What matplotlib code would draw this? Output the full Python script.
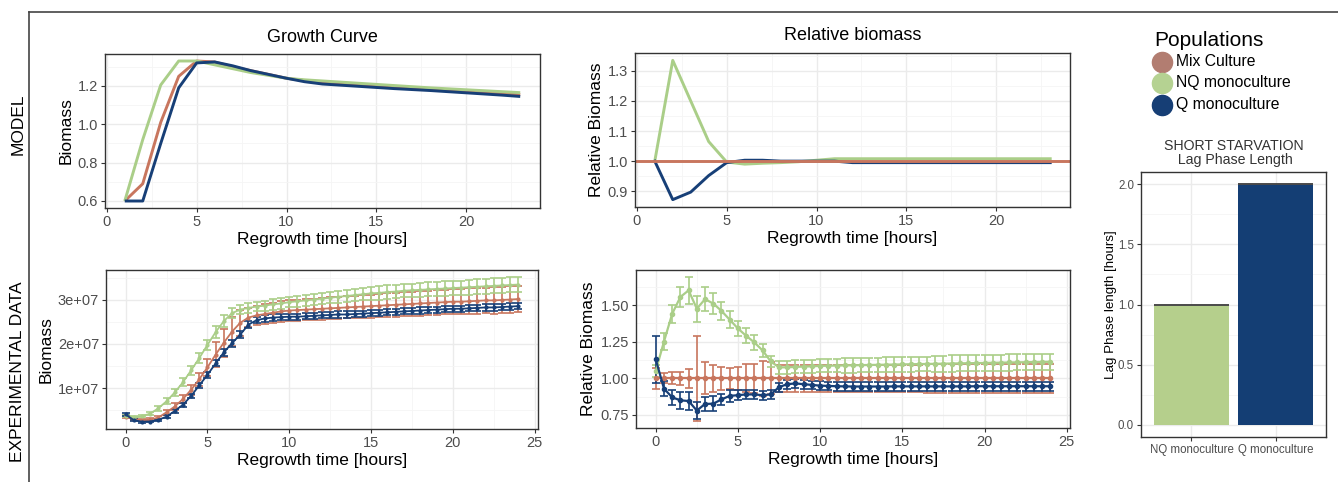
import numpy as np
import matplotlib
matplotlib.use("Agg")
import matplotlib.pyplot as plt

plt.rcParams['font.family'] = ['Liberation Sans', 'DejaVu Sans']

# ---------------- data ----------------
populations = ["Mix Culture", "NQ monoculture", "Q monoculture"]

model_hours = [1, 2, 3, 4, 5, 6, 7, 8, 9, 10, 11, 12, 13, 14, 15, 16, 17, 18, 19, 20, 21, 22, 23]
model_mix = [0.60, 0.69, 1.01, 1.25, 1.33, 1.325, 1.30, 1.28, 1.26, 1.24, 1.228, 1.218, 1.21, 1.204,
             1.198, 1.192, 1.187, 1.182, 1.177, 1.172, 1.167, 1.161, 1.155]
model_nq = [0.60, 0.92, 1.205, 1.33, 1.33, 1.31, 1.29, 1.27, 1.255, 1.24, 1.232, 1.226, 1.22, 1.214,
            1.208, 1.202, 1.196, 1.19, 1.185, 1.18, 1.175, 1.17, 1.165]
model_q = [0.60, 0.60, 0.90, 1.19, 1.32, 1.325, 1.305, 1.28, 1.26, 1.24, 1.222, 1.21, 1.204, 1.198,
           1.192, 1.186, 1.181, 1.176, 1.17, 1.164, 1.158, 1.152, 1.145]

model_rel_baseline = 1.0
model_rel_nq = [1.0, 1.335, 1.20, 1.065, 0.997, 0.99, 0.993, 0.995, 0.998, 1.003, 1.008, 1.008, 1.008,
                1.008, 1.008, 1.008, 1.008, 1.008, 1.008, 1.008, 1.008, 1.008, 1.008]
model_rel_q = [1.0, 0.872, 0.897, 0.952, 0.995, 1.003, 1.003, 1.0, 1.0, 1.0, 1.0, 0.995, 0.995, 0.995,
               0.995, 0.995, 0.995, 0.995, 0.995, 0.995, 0.995, 0.995, 0.995]

exp_hours = [0, 0.5, 1, 1.5, 2, 2.5, 3, 3.5, 4, 4.5, 5, 5.5, 6, 6.5, 7, 7.5, 8, 8.5, 9, 9.5, 10,
             10.5, 11, 11.5, 12, 12.5, 13, 13.5, 14, 14.5, 15, 15.5, 16, 16.5, 17, 17.5, 18, 18.5,
             19, 19.5, 20, 20.5, 21, 21.5, 22, 22.5, 23, 23.5, 24]

# biomass in units of 1e7
exp_mix = [0.35, 0.29, 0.27, 0.28, 0.33, 0.45, 0.58, 0.75, 0.96, 1.20, 1.47, 1.76, 2.03, 2.28, 2.48,
           2.60, 2.65, 2.68, 2.71, 2.74, 2.76,
           2.77, 2.78, 2.79, 2.80, 2.81, 2.82, 2.83, 2.84, 2.85, 2.86, 2.87, 2.88, 2.89, 2.90,
           2.91, 2.92, 2.93, 2.94, 2.95, 2.96, 2.96, 2.97, 2.98, 2.99, 2.99, 3.00, 3.01, 3.02]
exp_mix_sd = [0.03, 0.02, 0.02, 0.03, 0.04, 0.06, 0.08, 0.10, 0.12, 0.15, 0.20, 0.28, 0.32, 0.33, 0.30,
              0.22, 0.22, 0.22, 0.23, 0.23, 0.23,
              0.24, 0.24, 0.24, 0.25, 0.25, 0.25, 0.25, 0.26, 0.26, 0.26, 0.26, 0.27, 0.27, 0.27,
              0.27, 0.28, 0.28, 0.28, 0.28, 0.29, 0.29, 0.29, 0.29, 0.29, 0.30, 0.30, 0.30, 0.30]
exp_nq = [0.37, 0.34, 0.36, 0.42, 0.54, 0.70, 0.90, 1.13, 1.40, 1.68, 1.98, 2.27, 2.52, 2.70, 2.78,
          2.82, 2.85, 2.87, 2.90, 2.92, 2.95,
          2.97, 2.99, 3.01, 3.03, 3.05, 3.07, 3.09, 3.11, 3.13, 3.15, 3.16, 3.18, 3.19, 3.21,
          3.22, 3.23, 3.24, 3.25, 3.26, 3.27, 3.28, 3.29, 3.30, 3.31, 3.32, 3.33, 3.34, 3.35]
exp_nq_sd = [0.02, 0.02, 0.02, 0.03, 0.05, 0.07, 0.08, 0.09, 0.10, 0.11, 0.12, 0.13, 0.13, 0.12, 0.11,
             0.11, 0.11, 0.11, 0.12, 0.12, 0.12,
             0.12, 0.12, 0.13, 0.13, 0.13, 0.13, 0.14, 0.14, 0.14, 0.14, 0.15, 0.15, 0.15, 0.15,
             0.15, 0.16, 0.16, 0.16, 0.16, 0.16, 0.16, 0.17, 0.17, 0.17, 0.17, 0.17, 0.17, 0.17]
exp_q = [0.40, 0.27, 0.235, 0.24, 0.28, 0.35, 0.48, 0.62, 0.82, 1.06, 1.30, 1.56, 1.81, 2.02, 2.21,
         2.44, 2.54, 2.58, 2.60, 2.61, 2.62,
         2.62, 2.63, 2.64, 2.65, 2.66, 2.67, 2.67, 2.68, 2.69, 2.70, 2.71, 2.72, 2.73, 2.74,
         2.75, 2.76, 2.77, 2.78, 2.79, 2.80, 2.80, 2.81, 2.82, 2.83, 2.83, 2.84, 2.85, 2.86]
exp_q_sd = [0.03, 0.02, 0.02, 0.02, 0.02, 0.03, 0.04, 0.05, 0.05, 0.06, 0.07, 0.07, 0.08, 0.08, 0.08,
            0.08, 0.07, 0.07, 0.07, 0.07, 0.07,
            0.07, 0.07, 0.07, 0.07, 0.07, 0.07, 0.07, 0.07, 0.07, 0.07, 0.07, 0.07, 0.07, 0.07,
            0.07, 0.07, 0.07, 0.07, 0.07, 0.07, 0.07, 0.07, 0.07, 0.07, 0.07, 0.07, 0.07, 0.07]

rel_mix = [1.0] * 49
rel_mix_sd = [0.07, 0.035, 0.04, 0.045, 0.065, 0.29, 0.11, 0.09, 0.08, 0.07, 0.08, 0.095, 0.10, 0.12,
              0.11, 0.09, 0.09, 0.09, 0.09, 0.09, 0.09,
              0.09, 0.09, 0.09, 0.09, 0.09, 0.09, 0.09, 0.09, 0.09, 0.09, 0.09, 0.09, 0.10, 0.10,
              0.10, 0.10, 0.10, 0.10, 0.10, 0.10, 0.10, 0.10, 0.10, 0.10, 0.10, 0.10, 0.10, 0.10]
rel_nq = [1.05, 1.25, 1.44, 1.555, 1.60, 1.475, 1.54, 1.51, 1.46, 1.40, 1.34, 1.29, 1.245, 1.19,
          1.115, 1.075, 1.075, 1.078, 1.08, 1.082, 1.085,
          1.086, 1.087, 1.088, 1.089, 1.09, 1.091, 1.092, 1.093, 1.094, 1.095, 1.096, 1.097, 1.098,
          1.099, 1.10, 1.101, 1.102, 1.103, 1.104, 1.105, 1.106, 1.107, 1.108, 1.109, 1.11, 1.111,
          1.112, 1.113]
rel_nq_sd = [0.04, 0.06, 0.06, 0.07, 0.09, 0.09, 0.08, 0.07, 0.06, 0.06, 0.05, 0.05, 0.05, 0.045,
             0.04, 0.045, 0.045, 0.045, 0.045, 0.045, 0.045,
             0.045, 0.045, 0.05, 0.05, 0.05, 0.05, 0.05, 0.05, 0.05, 0.05, 0.05, 0.05, 0.05, 0.055,
             0.055, 0.055, 0.055, 0.055, 0.055, 0.055, 0.055, 0.055, 0.055, 0.055, 0.055, 0.055,
             0.055, 0.055]
rel_q = [1.13, 0.93, 0.87, 0.85, 0.845, 0.78, 0.825, 0.827, 0.856, 0.88, 0.885, 0.89, 0.89, 0.885,
         0.89, 0.94, 0.96, 0.965, 0.96, 0.955, 0.95,
         0.948, 0.946, 0.945, 0.944, 0.944, 0.944, 0.944, 0.944, 0.945, 0.945, 0.945, 0.945, 0.945,
         0.945, 0.945, 0.945, 0.945, 0.945, 0.946, 0.946, 0.946, 0.946, 0.946, 0.946, 0.946, 0.946,
         0.946, 0.946]
rel_q_sd = [0.16, 0.05, 0.05, 0.06, 0.06, 0.06, 0.05, 0.05, 0.04, 0.04, 0.035, 0.03, 0.03, 0.03,
            0.03, 0.03, 0.03, 0.03, 0.03, 0.03, 0.03,
            0.03, 0.03, 0.03, 0.03, 0.03, 0.03, 0.03, 0.03, 0.03, 0.03, 0.03, 0.03, 0.03, 0.03,
            0.03, 0.03, 0.03, 0.03, 0.03, 0.03, 0.03, 0.03, 0.03, 0.03, 0.03, 0.03, 0.03, 0.03]

lag_categories = ["NQ monoculture", "Q monoculture"]
lag_values = [1.0, 2.0]

exp_biomass_ticks = [1, 2, 3]
exp_biomass_ticklabels = ["1e+07", "2e+07", "3e+07"]

# ---------------- style ----------------
C_MIX = "#C8765E"
C_NQ = "#AACE88"
C_Q = "#173F77"
L_MIX = "#B27D71"
L_NQ = "#B5D292"
L_Q = "#163E75"
BAR_NQ = "#B5CF8C"
BAR_Q = "#143E74"

W, H = 1338, 482
fig = plt.figure(figsize=(W / 100, H / 100), dpi=100)

overlay = fig.add_axes([0, 0, 1, 1])
overlay.set_xlim(0, W)
overlay.set_ylim(H, 0)
overlay.axis('off')
overlay.patch.set_alpha(0)


def add_ax(x0, y0, x1, y1):
    return fig.add_axes([x0 / W, 1 - y1 / H, (x1 - x0) / W, (y1 - y0) / H])


def style(ax, xmaj, xminor, ymaj, yminor, tsize=10.5):
    ax.set_xticks(xmaj)
    ax.set_xticks(xminor, minor=True)
    ax.set_yticks(ymaj)
    ax.set_yticks(yminor, minor=True)
    ax.grid(which='major', color='#EBEBEB', lw=1.0)
    ax.grid(which='minor', color='#F5F5F5', lw=0.6)
    ax.set_axisbelow(True)
    for s in ax.spines.values():
        s.set_color('#333333')
        s.set_linewidth(1.0)
    ax.tick_params(which='major', length=3, width=0.8, color='#333333', labelcolor='#4D4D4D',
                   labelsize=tsize, pad=2)
    ax.tick_params(which='minor', length=0)


AX_LABEL = 12.5

# ---- Growth Curve (model)
ax1 = add_ax(105, 54, 540, 208)
ax1.plot(model_hours, model_mix, color=C_MIX, lw=2.1, solid_capstyle='butt')
ax1.plot(model_hours, model_nq, color=C_NQ, lw=2.1, solid_capstyle='butt')
ax1.plot(model_hours, model_q, color=C_Q, lw=2.1, solid_capstyle='butt')
ax1.set_xlim(-0.1, 24.1)
ax1.set_ylim(0.5635, 1.3665)
style(ax1, [0, 5, 10, 15, 20], [2.5, 7.5, 12.5, 17.5, 22.5], [0.6, 0.8, 1.0, 1.2], [0.7, 0.9, 1.1, 1.3])
ax1.yaxis.set_major_formatter(matplotlib.ticker.FormatStrFormatter('%.1f'))
ax1.set_xlabel("Regrowth time [hours]", fontsize=AX_LABEL, labelpad=2)
ax1.set_ylabel("Biomass", fontsize=AX_LABEL, labelpad=3)
ax1.set_title("Growth Curve", fontsize=13, pad=9)

# ---- Relative biomass (model)
ax2 = add_ax(635, 53, 1070, 207)
ax2.plot(model_hours, model_rel_nq, color=C_NQ, lw=2.1)
ax2.plot(model_hours, model_rel_q, color=C_Q, lw=2.1)
ax2.axhline(model_rel_baseline, color=C_MIX, lw=2.1)
ax2.set_xlim(-0.1, 24.1)
ax2.set_ylim(0.8475, 1.3595)
style(ax2, [0, 5, 10, 15, 20], [2.5, 7.5, 12.5, 17.5, 22.5], [0.9, 1.0, 1.1, 1.2, 1.3],
      [0.85, 0.95, 1.05, 1.15, 1.25, 1.35])
ax2.yaxis.set_major_formatter(matplotlib.ticker.FormatStrFormatter('%.1f'))
ax2.set_xlabel("Regrowth time [hours]", fontsize=AX_LABEL, labelpad=2)
ax2.set_ylabel("Relative Biomass", fontsize=AX_LABEL, labelpad=3)
ax2.set_title("Relative biomass", fontsize=13, pad=9)

# ---- Experimental growth
ax3 = add_ax(106, 270, 538, 429)
for m, sd, c in [(exp_mix, exp_mix_sd, C_MIX), (exp_nq, exp_nq_sd, C_NQ), (exp_q, exp_q_sd, C_Q)]:
    ax3.errorbar(exp_hours, m, yerr=sd, color=c, lw=1.3, elinewidth=1.2, capsize=3.0, capthick=1.2,
                 marker='o', ms=2.0)
ax3.set_xlim(-1.2, 25.2)
ax3.set_ylim(0.07, 3.68)
style(ax3, [0, 5, 10, 15, 20, 25], [2.5, 7.5, 12.5, 17.5, 22.5], exp_biomass_ticks, [0.5, 1.5, 2.5, 3.5])
ax3.set_yticklabels(exp_biomass_ticklabels)
ax3.set_xlabel("Regrowth time [hours]", fontsize=AX_LABEL, labelpad=2)
ax3.set_ylabel("Biomass", fontsize=AX_LABEL, labelpad=3)

# ---- Experimental relative biomass
ax4 = add_ax(636, 270, 1070, 428)
for m, sd, c in [(rel_mix, rel_mix_sd, C_MIX), (rel_nq, rel_nq_sd, C_NQ), (rel_q, rel_q_sd, C_Q)]:
    ax4.errorbar(exp_hours, m, yerr=sd, color=c, lw=1.6, elinewidth=1.2, capsize=3.0, capthick=1.2,
                 marker='o', ms=3)
ax4.set_xlim(-1.2, 25.2)
ax4.set_ylim(0.661, 1.739)
style(ax4, [0, 5, 10, 15, 20, 25], [2.5, 7.5, 12.5, 17.5, 22.5], [0.75, 1.0, 1.25, 1.5],
      [0.875, 1.125, 1.375, 1.625])
ax4.yaxis.set_major_formatter(matplotlib.ticker.FormatStrFormatter('%.2f'))
ax4.set_xlabel("Regrowth time [hours]", fontsize=AX_LABEL, labelpad=2)
ax4.set_ylabel("Relative Biomass", fontsize=AX_LABEL, labelpad=3)

# ---- Lag phase bar chart
ax5 = add_ax(1141, 172, 1326, 437)
pos = np.arange(1, len(lag_categories) + 1)
ax5.bar(pos, lag_values, width=0.9, color=[BAR_NQ, BAR_Q], zorder=2)
ax5.hlines(lag_values, pos - 0.45, pos + 0.45, color='#4A4A4A', lw=1.4, zorder=3)
ax5.set_xlim(0.4, 2.6)
ax5.set_ylim(-0.1, 2.1)
style(ax5, pos, [], [0.0, 0.5, 1.0, 1.5, 2.0], [0.25, 0.75, 1.25, 1.75], tsize=8.3)
ax5.set_xticklabels(lag_categories)
ax5.yaxis.set_major_formatter(matplotlib.ticker.FormatStrFormatter('%.1f'))
ax5.set_ylabel("Lag Phase length [hours]", fontsize=9.6, labelpad=1)
ax5.set_title("SHORT STARVATION\n Lag Phase Length", fontsize=10.2, color='#333333', pad=6,
              linespacing=1.0)

# ---- frame, strip labels, legend
overlay.plot([29, W], [12, 12], color='#444444', lw=1.2)
overlay.plot([29, 29], [12, H], color='#444444', lw=1.2)
overlay.text(18, 124, "MODEL", rotation=90, ha='center', va='center', fontsize=12.5)
overlay.text(18, 372, "EXPERIMENTAL DATA", rotation=90, ha='center', va='center', fontsize=12.5)

overlay.text(1154, 40, "Populations", ha='left', va='center', fontsize=15)
for yy, lab, c in zip([62, 83, 105], populations, [L_MIX, L_NQ, L_Q]):
    overlay.plot([1162], [yy], marker='o', ms=14.5, color=c, mec=c)
    overlay.text(1176, yy, lab, ha='left', va='center', fontsize=11.3)

fig.savefig("out.png", dpi=100)
